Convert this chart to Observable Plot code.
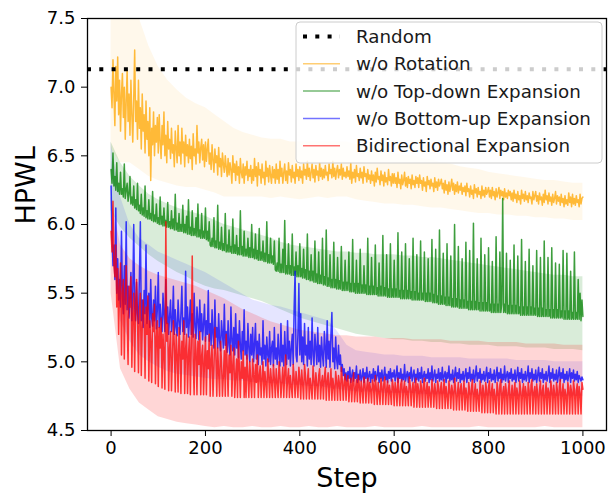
<!DOCTYPE html>
<html>
<head>
<meta charset="utf-8">
<script src="https://cdn.jsdelivr.net/npm/d3@7"></script>
<script src="https://cdn.jsdelivr.net/npm/@observablehq/plot@0.6"></script>
<style>
  html, body { margin: 0; padding: 0; background: white; }
</style>
</head>
<body>
<div id="chart"></div>
<script>
// ---------- data ----------
const xTicks = [0, 200, 400, 600, 800, 1000];
const yTicks = [4.5, 5.0, 5.5, 6.0, 6.5, 7.0, 7.5];
const seriesNames = ["w/o Rotation", "w/o Top-down Expansion", "w/o Bottom-up Expansion", "Bidirectional Expansion"];
const seriesColors = ["#FFA500", "#008000", "#0000FF", "#FF0000"];
const randomLabel = "Random";
const randomHPWL = 7.13;

// curves sampled every 2 steps (0..1000), 25 values per row = 50 steps
const rotationMean = [
  7.0, 6.85, 7.2, 6.95, 6.72, 7.15, 6.9, 7.22, 6.8, 7.05, 6.68, 6.95, 7.1, 6.78, 7.0, 6.62, 6.9, 7.12, 6.75, 6.95, 6.65, 7.05, 6.8, 6.6, 6.92,
  7.27, 6.75, 6.9, 6.62, 7.05, 6.7, 6.85, 6.55, 6.95, 6.68, 6.8, 6.52, 6.9, 6.62, 6.75, 6.5, 6.85, 6.32, 6.7, 6.58, 6.82, 6.5, 6.72, 6.6, 6.78,
  6.52, 6.8, 6.6, 6.48, 6.72, 6.58, 6.82, 6.5, 6.65, 6.45, 6.75, 6.55, 6.62, 6.48, 6.7, 6.52, 6.58, 6.42, 6.68, 6.55, 6.45, 6.72, 6.5, 6.6, 6.44,
  6.7, 6.52, 6.6, 6.42, 6.65, 6.5, 6.58, 6.45, 6.62, 6.48, 6.57, 6.4, 6.66, 6.5, 6.55, 6.44, 6.72, 6.52, 6.6, 6.45, 6.56, 6.62, 6.47, 6.58, 6.42,
  6.6, 6.46, 6.55, 6.62, 6.44, 6.52, 6.4, 6.58, 6.47, 6.38, 6.55, 6.45, 6.5, 6.36, 6.56, 6.42, 6.48, 6.35, 6.52, 6.44, 6.38, 6.5, 6.42, 6.35, 6.48,
  6.36, 6.45, 6.4, 6.3, 6.5, 6.38, 6.44, 6.32, 6.46, 6.36, 6.42, 6.3, 6.48, 6.38, 6.34, 6.44, 6.3, 6.42, 6.36, 6.46, 6.32, 6.4, 6.35, 6.43, 6.3,
  6.4, 6.32, 6.48, 6.35, 6.42, 6.28, 6.45, 6.36, 6.4, 6.3, 6.44, 6.34, 6.38, 6.29, 6.46, 6.35, 6.41, 6.31, 6.43, 6.36, 6.3, 6.42, 6.34, 6.4, 6.3,
  6.44, 6.33, 6.4, 6.3, 6.46, 6.35, 6.41, 6.3, 6.38, 6.44, 6.32, 6.39, 6.3, 6.45, 6.36, 6.4, 6.31, 6.43, 6.34, 6.38, 6.3, 6.44, 6.35, 6.4, 6.32,
  6.42, 6.34, 6.39, 6.3, 6.44, 6.36, 6.4, 6.33, 6.46, 6.35, 6.41, 6.32, 6.38, 6.44, 6.34, 6.4, 6.31, 6.43, 6.36, 6.39, 6.32, 6.45, 6.35, 6.41, 6.33,
  6.4, 6.34, 6.43, 6.36, 6.38, 6.32, 6.44, 6.37, 6.4, 6.34, 6.46, 6.35, 6.41, 6.33, 6.39, 6.43, 6.34, 6.4, 6.36, 6.44, 6.33, 6.41, 6.35, 6.38, 6.34,
  6.42, 6.35, 6.39, 6.33, 6.45, 6.3, 6.38, 6.34, 6.4, 6.31, 6.43, 6.35, 6.37, 6.32, 6.41, 6.34, 6.38, 6.3, 6.42, 6.35, 6.37, 6.31, 6.4, 6.33, 6.36,
  6.3, 6.39, 6.32, 6.36, 6.28, 6.38, 6.31, 6.41, 6.33, 6.35, 6.29, 6.39, 6.32, 6.36, 6.28, 6.38, 6.31, 6.34, 6.29, 6.4, 6.32, 6.35, 6.28, 6.37, 6.3,
  6.37, 6.3, 6.34, 6.27, 6.38, 6.3, 6.33, 6.26, 6.36, 6.29, 6.32, 6.38, 6.28, 6.34, 6.27, 6.35, 6.3, 6.33, 6.26, 6.36, 6.29, 6.32, 6.27, 6.35, 6.3,
  6.34, 6.27, 6.36, 6.3, 6.32, 6.25, 6.34, 6.28, 6.31, 6.24, 6.35, 6.29, 6.32, 6.26, 6.33, 6.28, 6.3, 6.24, 6.34, 6.27, 6.31, 6.25, 6.33, 6.28, 6.3,
  6.33, 6.26, 6.3, 6.23, 6.32, 6.25, 6.29, 6.22, 6.31, 6.24, 6.28, 6.33, 6.25, 6.3, 6.22, 6.29, 6.24, 6.31, 6.23, 6.28, 6.25, 6.3, 6.22, 6.27, 6.24,
  6.28, 6.21, 6.3, 6.24, 6.26, 6.2, 6.28, 6.22, 6.25, 6.19, 6.29, 6.23, 6.26, 6.2, 6.27, 6.22, 6.24, 6.19, 6.28, 6.21, 6.25, 6.2, 6.27, 6.22, 6.24,
  6.27, 6.2, 6.25, 6.19, 6.27, 6.21, 6.24, 6.18, 6.26, 6.2, 6.23, 6.27, 6.19, 6.25, 6.21, 6.24, 6.18, 6.26, 6.2, 6.23, 6.19, 6.25, 6.21, 6.24, 6.18,
  6.23, 6.17, 6.25, 6.19, 6.22, 6.16, 6.24, 6.18, 6.21, 6.15, 6.25, 6.19, 6.22, 6.17, 6.24, 6.18, 6.21, 6.16, 6.23, 6.19, 6.2, 6.15, 6.24, 6.18, 6.21,
  6.24, 6.17, 6.21, 6.15, 6.23, 6.18, 6.2, 6.14, 6.22, 6.16, 6.25, 6.18, 6.21, 6.15, 6.23, 6.17, 6.2, 6.14, 6.22, 6.16, 6.19, 6.24, 6.15, 6.21, 6.17,
  6.2, 6.14, 6.22, 6.16, 6.19, 6.13, 6.21, 6.15, 6.18, 6.14, 6.23, 6.16, 6.2, 6.13, 6.22, 6.15, 6.19, 6.14, 6.21, 6.16, 6.18, 6.13, 6.22, 6.15, 6.19,
  6.2
];
const topDownMean = [
  6.4, 6.3, 6.52, 6.28, 6.35, 6.25, 6.45, 6.24, 6.3, 6.22, 6.38, 6.22, 6.26, 6.2, 6.44, 6.19, 6.25, 6.3, 6.17, 6.22, 6.35, 6.15, 6.2, 6.14, 6.28,
  6.12, 6.18, 6.11, 6.3, 6.1, 6.14, 6.08, 6.22, 6.07, 6.12, 6.06, 6.28, 6.05, 6.1, 6.04, 6.18, 6.04, 6.08, 6.03, 6.24, 6.02, 6.07, 6.02, 6.15, 6.01,
  6.05, 6.0, 6.2, 6.0, 6.06, 5.99, 6.12, 5.99, 6.03, 5.98, 6.16, 5.98, 6.02, 5.97, 6.1, 5.97, 6.04, 5.96, 6.22, 5.96, 6.01, 5.95, 6.08, 5.95, 6.0,
  5.95, 6.14, 5.94, 6.0, 5.94, 6.06, 5.93, 6.18, 5.93, 5.98, 5.92, 6.1, 5.92, 5.97, 5.92, 6.05, 5.91, 6.15, 5.91, 5.96, 5.9, 6.08, 5.9, 5.95, 5.9,
  6.12, 5.89, 5.95, 5.88, 6.02, 5.85, 5.84, 5.9, 5.84, 6.05, 5.83, 5.88, 5.83, 6.14, 5.82, 5.87, 5.82, 5.98, 5.81, 5.86, 5.81, 6.08, 5.8, 5.85, 5.8,
  5.96, 5.8, 5.84, 5.79, 6.04, 5.79, 5.85, 5.79, 5.92, 5.78, 5.83, 5.78, 6.1, 5.78, 5.84, 5.77, 5.95, 5.77, 5.82, 5.77, 5.9, 5.76, 5.83, 5.76, 6.0,
  5.76, 5.82, 5.75, 5.93, 5.75, 5.81, 5.74, 5.97, 5.74, 5.8, 5.74, 5.88, 5.73, 5.79, 5.73, 6.02, 5.72, 5.78, 5.72, 5.9, 5.72, 5.77, 5.71, 5.88, 5.67,
  5.66, 5.72, 5.66, 5.9, 5.65, 5.71, 5.65, 5.82, 5.65, 6.03, 5.64, 5.7, 5.64, 5.86, 5.64, 5.7, 5.63, 5.93, 5.63, 5.69, 5.63, 5.8, 5.62, 5.7, 5.62,
  5.86, 5.62, 5.68, 5.61, 5.82, 5.61, 5.67, 5.6, 5.93, 5.6, 5.66, 5.59, 5.78, 5.59, 5.66, 5.58, 5.88, 5.58, 5.64, 5.57, 5.8, 5.57, 5.63, 5.57, 5.9,
  5.56, 5.62, 5.56, 5.96, 5.55, 5.61, 5.55, 5.78, 5.54, 5.6, 5.54, 5.87, 5.54, 5.6, 5.53, 5.76, 5.53, 5.59, 5.53, 5.84, 5.52, 5.58, 5.52, 5.74, 5.52,
  5.58, 5.52, 5.8, 5.51, 5.57, 5.51, 5.89, 5.51, 5.57, 5.5, 5.74, 5.5, 5.57, 5.5, 5.82, 5.5, 5.56, 5.5, 5.7, 5.5, 5.56, 5.49, 5.9, 5.49, 5.55,
  5.49, 5.76, 5.49, 5.55, 5.49, 5.85, 5.49, 5.54, 5.48, 5.72, 5.48, 5.55, 5.48, 5.92, 5.48, 5.54, 5.48, 5.78, 5.47, 5.53, 5.47, 5.86, 5.47, 5.53, 5.47,
  5.74, 5.47, 5.53, 5.47, 5.94, 5.47, 5.52, 5.46, 5.8, 5.46, 5.52, 5.46, 5.86, 5.46, 5.52, 5.46, 5.75, 5.46, 5.51, 5.45, 5.9, 5.45, 5.51, 5.45, 5.78,
  5.45, 5.5, 5.45, 5.88, 5.45, 5.5, 5.45, 5.8, 5.44, 5.5, 5.44, 5.75, 5.44, 5.5, 5.44, 5.89, 5.43, 5.49, 5.43, 5.82, 5.43, 5.48, 5.42, 5.96, 5.42,
  5.48, 5.42, 5.79, 5.42, 5.47, 5.41, 5.86, 5.41, 5.47, 5.41, 5.77, 5.4, 5.46, 5.4, 6.0, 5.4, 5.46, 5.4, 5.84, 5.39, 5.45, 5.39, 5.75, 5.39, 5.45,
  5.39, 5.87, 5.39, 5.44, 5.38, 5.81, 5.38, 5.44, 5.38, 6.01, 5.38, 5.44, 5.38, 5.75, 5.38, 5.43, 5.37, 5.9, 5.37, 5.43, 5.37, 5.78, 5.37, 5.43, 5.37,
  5.83, 5.37, 5.42, 5.36, 5.73, 5.36, 5.42, 5.36, 5.91, 5.36, 5.42, 5.36, 5.8, 5.36, 5.42, 6.19, 5.36, 5.42, 5.36, 5.79, 5.35, 5.41, 5.35, 5.74, 5.35,
  5.41, 5.35, 5.85, 5.35, 5.41, 5.35, 5.77, 5.35, 5.4, 5.34, 5.89, 5.34, 5.4, 5.34, 5.73, 5.34, 5.4, 5.34, 5.82, 5.34, 5.4, 5.34, 5.7, 5.34, 5.39,
  5.34, 5.81, 5.33, 5.39, 5.33, 5.76, 5.33, 5.39, 5.33, 5.88, 5.33, 5.38, 5.33, 5.76, 5.33, 5.38, 5.32, 5.83, 5.32, 5.38, 5.32, 5.72, 5.32, 5.38, 5.32,
  5.71, 5.32, 5.37, 5.32, 5.81, 5.31, 5.37, 5.31, 5.79, 5.31, 5.37, 5.31, 5.66, 5.31, 5.36, 5.31, 5.8, 5.31, 5.36, 5.31, 5.6, 5.31, 5.5, 5.3, 5.45,
  5.33
];
const bottomUpMean = [
  6.28, 5.9, 5.7, 5.85, 5.6, 6.12, 5.5, 5.75, 5.45, 5.6, 5.4, 5.95, 5.5, 5.35, 5.7, 5.42, 6.02, 5.38, 5.55, 5.32, 5.48, 5.65, 5.3, 5.52, 6.0,
  5.4, 5.3, 5.58, 5.35, 5.28, 5.62, 6.02, 5.3, 5.45, 5.25, 5.52, 5.35, 5.85, 5.28, 5.4, 5.5, 5.25, 5.6, 5.32, 5.26, 5.45, 5.3, 5.55, 5.24, 5.38,
  5.65, 5.25, 5.42, 5.3, 5.22, 5.5, 5.35, 5.22, 5.6, 5.28, 5.4, 5.2, 5.33, 5.45, 5.22, 5.3, 5.55, 5.2, 5.38, 5.25, 5.19, 5.45, 5.3, 5.2, 5.35,
  5.55, 5.22, 5.32, 5.2, 5.66, 5.25, 5.4, 5.18, 5.3, 5.45, 5.2, 5.35, 5.18, 5.5, 5.25, 5.17, 5.4, 5.3, 5.16, 5.45, 5.22, 5.35, 5.16, 5.28, 5.42,
  5.15, 5.3, 5.2, 5.52, 5.15, 5.28, 5.12, 5.38, 5.2, 5.1, 5.45, 5.18, 5.25, 5.1, 5.35, 5.15, 5.08, 5.3, 5.2, 5.1, 5.42, 5.12, 5.22, 5.07, 5.3,
  5.12, 5.05, 5.4, 5.15, 5.08, 5.25, 5.05, 5.35, 5.1, 5.2, 5.03, 5.3, 5.12, 5.02, 5.22, 5.08, 5.38, 5.05, 5.15, 5.02, 5.28, 5.1, 5.0, 5.2, 5.05,
  5.25, 5.0, 5.12, 5.28, 5.02, 5.15, 4.98, 5.2, 5.05, 5.1, 4.98, 5.3, 5.02, 5.12, 4.97, 5.18, 5.05, 5.0, 5.22, 4.98, 5.1, 5.15, 4.97, 5.25, 5.02,
  5.1, 4.98, 5.2, 5.05, 4.97, 5.28, 5.0, 5.12, 4.97, 5.22, 5.05, 4.98, 5.3, 5.02, 5.15, 4.97, 5.1, 5.2, 4.98, 5.4, 5.66, 5.05, 5.0, 5.2, 5.57,
  5.05, 5.35, 5.0, 5.18, 4.98, 5.28, 5.05, 5.12, 4.97, 5.25, 5.02, 5.15, 4.98, 5.32, 5.05, 4.97, 5.2, 5.1, 4.98, 5.25, 5.0, 5.12, 4.96, 5.18, 5.05,
  4.97, 5.22, 5.1, 4.96, 5.3, 5.02, 5.15, 4.96, 5.2, 5.36, 5.0, 5.1, 4.95, 5.18, 5.02, 4.95, 5.12, 4.98, 5.05, 4.93, 4.98, 4.9, 4.95, 4.87, 4.92,
  4.86, 4.93, 4.88, 4.96, 4.85, 4.9, 4.94, 4.86, 4.92, 4.88, 4.97, 4.85, 4.91, 4.87, 4.94, 4.86, 4.89, 4.95, 4.85, 4.92, 4.88, 4.96, 4.86, 4.9, 4.93,
  4.85, 4.91, 4.88, 4.95, 4.86, 4.93, 4.87, 4.9, 4.97, 4.85, 4.92, 4.88, 4.94, 4.86, 4.9, 4.96, 4.87, 4.91, 4.85, 4.93, 4.88, 4.95, 4.86, 4.92, 4.89,
  4.94, 4.86, 4.9, 4.97, 4.85, 4.92, 4.88, 4.95, 4.86, 4.91, 4.87, 4.98, 4.86, 4.9, 4.93, 4.85, 4.92, 4.88, 4.96, 4.86, 4.9, 4.94, 4.85, 4.91, 4.87,
  4.95, 4.86, 4.92, 4.88, 4.96, 4.85, 4.9, 4.93, 4.86, 4.91, 4.88, 4.95, 4.85, 4.92, 4.87, 4.97, 4.86, 4.9, 4.94, 4.85, 4.91, 4.88, 4.95, 4.86, 4.92,
  4.87, 4.96, 4.86, 4.9, 4.93, 4.85, 4.92, 4.88, 4.97, 4.86, 4.91, 4.87, 4.94, 4.85, 4.9, 4.96, 4.86, 4.92, 4.88, 4.95, 4.85, 4.91, 4.87, 4.93, 4.86,
  4.9, 4.95, 4.85, 4.92, 4.88, 4.96, 4.86, 4.91, 4.87, 4.94, 4.85, 4.9, 4.97, 4.86, 4.92, 4.88, 4.95, 4.85, 4.91, 4.87, 4.93, 4.86, 4.9, 4.96, 4.85,
  4.92, 4.88, 4.95, 4.86, 4.91, 4.87, 4.94, 4.85, 4.9, 4.96, 4.86, 4.92, 4.88, 4.95, 4.85, 4.91, 4.87, 4.97, 4.86, 4.9, 4.93, 4.85, 4.92, 4.88, 4.95,
  4.86, 4.91, 4.87, 4.94, 4.85, 4.9, 4.96, 4.86, 4.92, 4.88, 4.95, 4.85, 4.91, 4.87, 4.93, 4.86, 4.9, 4.97, 4.85, 4.92, 4.88, 4.95, 4.86, 4.91, 4.87,
  4.94, 4.85, 4.9, 4.96, 4.86, 4.92, 4.88, 4.95, 4.85, 4.91, 4.87, 4.93, 4.86, 4.9, 4.97, 4.85, 4.92, 4.88, 4.95, 4.86, 4.91, 4.87, 4.94, 4.85, 4.9,
  4.96, 4.86, 4.92, 4.88, 4.95, 4.85, 4.91, 4.87, 4.93, 4.86, 4.9, 4.95, 4.85, 4.92, 4.88, 4.94, 4.86, 4.91, 4.87, 4.93, 4.85, 4.9, 4.88, 4.86, 4.89,
  4.87
];
const bidirectionalMean = [
  5.95, 5.8, 6.17, 5.7, 5.62, 5.85, 5.4, 5.68, 5.2, 5.55, 5.72, 5.05, 5.5, 5.6, 5.02, 5.45, 5.7, 5.3, 4.98, 5.55, 5.4, 5.62, 4.96, 5.35, 5.5,
  4.93, 5.42, 5.6, 5.3, 4.92, 5.38, 5.5, 4.9, 5.25, 5.45, 5.32, 4.88, 5.4, 5.2, 5.48, 4.86, 5.3, 5.15, 4.85, 5.35, 5.22, 5.42, 4.84, 5.18, 5.3,
  4.82, 5.25, 5.1, 5.32, 4.81, 5.2, 5.05, 4.8, 6.02, 5.15, 5.28, 4.79, 5.1, 5.22, 4.79, 5.02, 5.3, 5.12, 4.78, 5.2, 5.05, 4.78, 5.25, 5.1, 4.77,
  5.15, 5.02, 5.3, 4.77, 5.1, 5.2, 4.77, 5.05, 5.18, 4.76, 5.12, 5.77, 5.0, 4.76, 5.2, 5.08, 4.76, 5.15, 4.98, 5.22, 4.76, 5.05, 5.12, 4.76, 5.0,
  5.18, 4.76, 5.08, 4.95, 5.2, 4.75, 5.02, 5.12, 4.75, 4.95, 5.25, 5.05, 4.75, 5.1, 4.92, 4.75, 5.15, 5.0, 4.75, 4.9, 5.08, 4.75, 5.2, 4.98, 4.75,
  5.05, 4.92, 5.12, 4.75, 4.98, 5.1, 4.74, 4.9, 5.02, 4.74, 5.15, 4.95, 4.74, 5.0, 4.88, 5.08, 4.74, 4.96, 4.74, 5.05, 4.9, 4.74, 5.0, 4.86, 4.74,
  5.02, 4.92, 4.74, 4.98, 4.85, 5.05, 4.74, 4.9, 4.97, 4.74, 4.88, 5.0, 4.74, 4.93, 4.84, 4.74, 5.02, 4.9, 4.74, 4.95, 4.86, 4.74, 4.98, 4.88, 4.74,
  4.95, 4.85, 4.74, 5.0, 4.9, 4.74, 4.86, 4.96, 4.74, 4.92, 5.05, 4.74, 4.87, 4.95, 4.74, 4.9, 4.82, 4.74, 4.98, 4.88, 4.74, 4.93, 4.85, 4.74, 4.96,
  4.88, 4.73, 4.94, 4.84, 4.73, 4.98, 4.9, 4.73, 4.86, 4.95, 4.73, 4.88, 4.82, 4.73, 4.97, 4.87, 4.73, 4.92, 4.84, 4.73, 4.9, 4.95, 4.73, 4.85, 4.9,
  4.73, 4.88, 4.96, 4.72, 4.86, 4.92, 4.72, 4.84, 4.95, 4.72, 4.88, 4.82, 4.72, 4.93, 4.86, 4.72, 4.9, 4.84, 4.72, 4.96, 4.87, 4.72, 4.85, 4.91, 4.72,
  4.86, 4.9, 4.71, 4.82, 4.88, 4.71, 4.85, 4.92, 4.71, 4.8, 4.87, 4.71, 4.9, 4.83, 4.7, 4.86, 4.8, 4.7, 4.89, 4.84, 4.7, 4.82, 4.88, 4.7, 4.85,
  4.8, 4.7, 4.87, 4.83, 4.69, 4.9, 4.81, 4.69, 4.85, 4.78, 4.69, 4.88, 4.82, 4.69, 4.84, 4.89, 4.69, 4.8, 4.86, 4.69, 4.83, 4.78, 4.69, 4.87, 4.82,
  4.68, 4.85, 4.8, 4.68, 4.88, 4.79, 4.68, 4.84, 4.87, 4.68, 4.8, 4.86, 4.68, 4.82, 4.78, 4.68, 4.89, 4.83, 4.68, 4.8, 4.85, 4.67, 4.82, 4.88, 4.67,
  4.84, 4.79, 4.67, 4.86, 4.81, 4.67, 4.83, 4.88, 4.67, 4.79, 4.85, 4.67, 4.82, 4.77, 4.67, 4.87, 4.8, 4.67, 4.84, 4.78, 4.66, 4.86, 4.82, 4.66, 4.8,
  4.85, 4.66, 4.79, 4.87, 4.66, 4.82, 4.76, 4.66, 4.86, 4.8, 4.66, 4.83, 4.78, 4.65, 4.88, 4.81, 4.65, 4.77, 4.85, 4.65, 4.8, 4.84, 4.65, 4.78, 4.86,
  4.65, 4.81, 4.76, 4.64, 4.85, 4.79, 4.64, 4.82, 4.87, 4.64, 4.77, 4.84, 4.64, 4.8, 4.75, 4.64, 4.86, 4.8, 4.63, 4.83, 4.77, 4.63, 4.85, 4.79, 4.63,
  4.82, 4.86, 4.63, 4.78, 4.84, 4.63, 4.8, 4.75, 4.62, 4.85, 4.79, 4.62, 4.83, 4.87, 4.62, 4.77, 4.82, 4.62, 4.84, 4.78, 4.62, 4.8, 4.86, 4.62, 4.76,
  4.83, 4.62, 4.79, 4.85, 4.62, 4.81, 4.76, 4.62, 4.86, 4.8, 4.62, 4.78, 4.84, 4.62, 4.82, 4.77, 4.62, 4.85, 4.79, 4.62, 4.83, 4.87, 4.62, 4.78, 4.82,
  4.62, 4.84, 4.77, 4.62, 4.8, 4.86, 4.62, 4.79, 4.83, 4.62, 4.76, 4.85, 4.62, 4.81, 4.78, 4.62, 4.86, 4.8, 4.62, 4.83, 4.77, 4.62, 4.85, 4.79, 4.62,
  4.82, 4.87, 4.62, 4.78, 4.84, 4.62, 4.8, 4.76, 4.62, 4.85, 4.81, 4.62, 4.83, 4.78, 4.62, 4.86, 4.8, 4.62, 4.79, 4.84, 4.62, 4.82, 4.77, 4.62, 4.85,
  4.8
];

// shaded bands sampled every 20 steps (0..1000)
const rotationLow = [6.55, 6.45, 6.45, 6.4, 6.35, 6.32, 6.3, 6.28, 6.27, 6.27, 6.25, 6.23, 6.2, 6.2, 6.2, 6.2, 6.2, 6.19, 6.2, 6.19, 6.18, 6.19, 6.2, 6.19, 6.2, 6.2, 6.18, 6.17, 6.16, 6.15, 6.15, 6.14, 6.14, 6.13, 6.12, 6.12, 6.11, 6.1, 6.09, 6.08, 6.08, 6.07, 6.07, 6.06, 6.06, 6.05, 6.05, 6.04, 6.04, 6.03, 6.03];
const rotationHigh = [7.6, 7.6, 7.6, 7.5, 7.3, 7.15, 7.05, 6.98, 6.92, 6.88, 6.85, 6.8, 6.75, 6.7, 6.67, 6.65, 6.63, 6.62, 6.62, 6.6, 6.6, 6.6, 6.6, 6.6, 6.6, 6.6, 6.58, 6.56, 6.55, 6.53, 6.52, 6.5, 6.5, 6.48, 6.47, 6.45, 6.44, 6.42, 6.41, 6.4, 6.38, 6.37, 6.36, 6.35, 6.34, 6.33, 6.32, 6.32, 6.31, 6.3, 6.3];
const topDownLow = [6.1, 5.98, 5.9, 5.84, 5.78, 5.73, 5.69, 5.65, 5.62, 5.58, 5.55, 5.53, 5.52, 5.5, 5.48, 5.46, 5.44, 5.41, 5.38, 5.35, 5.32, 5.3, 5.28, 5.26, 5.24, 5.22, 5.2, 5.19, 5.18, 5.17, 5.16, 5.16, 5.15, 5.15, 5.14, 5.14, 5.13, 5.13, 5.12, 5.12, 5.12, 5.11, 5.11, 5.11, 5.1, 5.1, 5.1, 5.09, 5.09, 5.09, 5.08];
const topDownHigh = [6.6, 6.45, 6.35, 6.28, 6.22, 6.18, 6.15, 6.12, 6.1, 6.08, 6.06, 6.03, 6.0, 5.98, 5.96, 5.94, 5.92, 5.9, 5.87, 5.85, 5.84, 5.83, 5.82, 5.81, 5.8, 5.8, 5.79, 5.79, 5.78, 5.78, 5.78, 5.77, 5.77, 5.76, 5.76, 5.75, 5.74, 5.73, 5.72, 5.71, 5.7, 5.69, 5.68, 5.67, 5.66, 5.65, 5.64, 5.63, 5.63, 5.62, 5.62];
const bottomUpLow = [5.9, 5.3, 5.15, 5.05, 5.0, 4.96, 4.93, 4.91, 4.9, 4.89, 4.88, 4.87, 4.87, 4.86, 4.86, 4.85, 4.85, 4.84, 4.84, 4.83, 4.83, 4.82, 4.82, 4.81, 4.8, 4.79, 4.78, 4.78, 4.78, 4.77, 4.77, 4.77, 4.77, 4.76, 4.76, 4.76, 4.76, 4.76, 4.76, 4.75, 4.75, 4.75, 4.75, 4.75, 4.75, 4.75, 4.75, 4.75, 4.75, 4.75, 4.75];
const bottomUpHigh = [6.6, 6.2, 6.0, 5.9, 5.85, 5.8, 5.77, 5.74, 5.71, 5.68, 5.65, 5.61, 5.57, 5.53, 5.49, 5.45, 5.43, 5.41, 5.4, 5.38, 5.36, 5.34, 5.32, 5.3, 5.22, 5.12, 5.08, 5.07, 5.06, 5.05, 5.05, 5.04, 5.04, 5.04, 5.03, 5.03, 5.03, 5.03, 5.02, 5.02, 5.02, 5.02, 5.02, 5.01, 5.01, 5.01, 5.01, 5.0, 5.0, 5.0, 5.0];
const bidirectionalLow = [5.5, 4.95, 4.8, 4.7, 4.65, 4.6, 4.58, 4.56, 4.55, 4.54, 4.53, 4.52, 4.53, 4.52, 4.52, 4.53, 4.52, 4.52, 4.53, 4.52, 4.52, 4.53, 4.52, 4.52, 4.53, 4.52, 4.52, 4.52, 4.53, 4.52, 4.52, 4.52, 4.52, 4.53, 4.52, 4.52, 4.52, 4.52, 4.52, 4.53, 4.52, 4.52, 4.52, 4.52, 4.52, 4.52, 4.53, 4.52, 4.52, 4.52, 4.52];
const bidirectionalHigh = [6.2, 5.85, 5.75, 5.7, 5.66, 5.63, 5.61, 5.59, 5.57, 5.55, 5.52, 5.49, 5.46, 5.42, 5.38, 5.35, 5.32, 5.29, 5.27, 5.25, 5.23, 5.22, 5.21, 5.2, 5.19, 5.19, 5.18, 5.18, 5.18, 5.17, 5.17, 5.17, 5.16, 5.16, 5.16, 5.16, 5.15, 5.15, 5.15, 5.15, 5.14, 5.14, 5.14, 5.14, 5.13, 5.13, 5.13, 5.13, 5.12, 5.12, 5.12];

// ---------- tables ----------
const lineSteps = d3.range(0, 1001, 2);
const bandSteps = d3.range(0, 1001, 20);
const means = [rotationMean, topDownMean, bottomUpMean, bidirectionalMean];
const lows = [rotationLow, topDownLow, bottomUpLow, bidirectionalLow];
const highs = [rotationHigh, topDownHigh, bottomUpHigh, bidirectionalHigh];
means.forEach((m, k) => { if (m.length !== lineSteps.length) throw new Error(seriesNames[k] + " has " + m.length + " values"); });

const bandOpacity = [0.08, 0.15, 0.1, 0.16];
const lineWidth = [1.5, 1.5, 1.5, 1.5];
const bandMarks = seriesNames.map((name, k) =>
  Plot.areaY(bandSteps.map((s, i) => ({step: s, lo: lows[k][i], hi: highs[k][i]})),
    {x: "step", y1: "lo", y2: "hi", fill: seriesColors[k], fillOpacity: bandOpacity[k], clip: true}));
const lineMarks = seriesNames.map((name, k) =>
  Plot.lineY(lineSteps.map((s, i) => ({step: s, v: means[k][i]})),
    {x: "step", y: "v", stroke: seriesColors[k], strokeOpacity: 0.76, strokeWidth: lineWidth[k], strokeLinejoin: "round", clip: true}));

const chart = Plot.plot({
  width: 608,
  height: 496,
  marginLeft: 87,
  marginRight: 2,
  marginTop: 18,
  marginBottom: 66,
  style: {fontFamily: "DejaVu Sans", fontSize: "18px", background: "white", color: "black", overflow: "visible"},
  x: {domain: [-50, 1050]},
  y: {domain: [4.5, 7.5]},
  marks: [
    ...bandMarks,
    ...lineMarks,
    Plot.ruleY([randomHPWL], {stroke: "black", strokeWidth: 4, strokeDasharray: "4,8.3"}),
    Plot.frame({stroke: "black", strokeWidth: 1.3}),
    Plot.axisX({ticks: xTicks, tickFormat: d => String(d), tickSize: 6, tickPadding: 5, label: null, fontSize: 18}),
    Plot.axisY({ticks: yTicks, tickFormat: d => d.toFixed(1), tickSize: 6, tickPadding: 6, label: null, fontSize: 18}),
    Plot.text(["Step"], {frameAnchor: "bottom", dy: 48, fontSize: 27, lineAnchor: "middle"}),
    Plot.text(["HPWL"], {frameAnchor: "left", dx: -61, rotate: -90, fontSize: 27, lineAnchor: "middle"})
  ]
});

// ---------- legend (inside plot, upper right) ----------
const svg = d3.select(chart);
const lg = svg.append("g").attr("font-family", "DejaVu Sans").attr("font-size", 18.3).attr("text-anchor", "start");
lg.append("rect")
  .attr("x", 296).attr("y", 22).attr("width", 306).attr("height", 141)
  .attr("rx", 4).attr("fill", "white").attr("fill-opacity", 0.8)
  .attr("stroke", "#cccccc").attr("stroke-width", 1);
const legendLabels = [randomLabel, ...seriesNames];
const legendColors = ["black", ...seriesColors];
legendLabels.forEach((label, i) => {
  const y = 36.5 + i * 27.3;
  const ln = lg.append("line").attr("x1", 303).attr("x2", 340).attr("y1", y).attr("y2", y);
  if (i === 0) {
    ln.attr("stroke", "black").attr("stroke-width", 4).attr("stroke-dasharray", "4,8.3");
  } else {
    ln.attr("stroke", legendColors[i]).attr("stroke-opacity", 0.55).attr("stroke-width", 1.5);
  }
  lg.append("text").attr("x", 356).attr("y", y).attr("dy", "0.35em")
    .attr("text-anchor", "start").attr("fill", "#1a1a1a").text(label);
});

document.getElementById("chart").appendChild(chart);
</script>
</body>
</html>
